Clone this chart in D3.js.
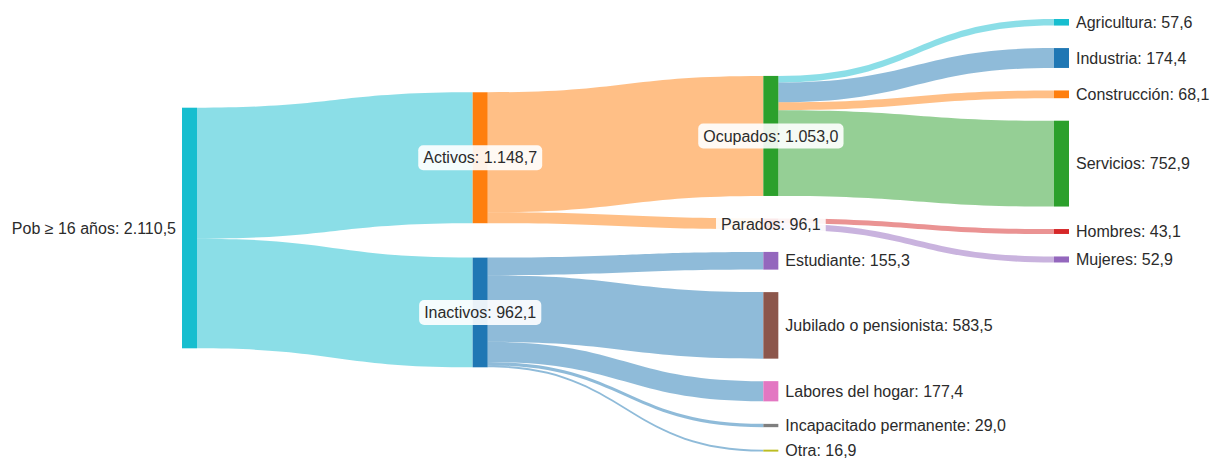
<!DOCTYPE html>
<html>
<head>
<meta charset="utf-8">
<script src="https://cdn.jsdelivr.net/npm/d3@7"></script>
<style>
  html, body { margin: 0; padding: 0; background: #fff; }
  svg { display: block; }
</style>
</head>
<body>
<svg id="chart" width="1215" height="458"></svg>
<script>
// ---------------- DATA ----------------
const nodeNames = [
  "Pob ≥ 16 años", "Activos", "Inactivos", "Ocupados", "Parados",
  "Estudiante", "Jubilado o pensionista", "Labores del hogar",
  "Incapacitado permanente", "Otra",
  "Agricultura", "Industria", "Construcción", "Servicios",
  "Hombres", "Mujeres"
];
const nodeValues = [
  2110.5, 1148.7, 962.1, 1053.0, 96.1,
  155.3, 583.5, 177.4, 29.0, 16.9,
  57.6, 174.4, 68.1, 752.9,
  43.1, 52.9
];
const nodeColorIndex = [9, 1, 0, 2, 3, 4, 5, 6, 7, 8, 9, 0, 1, 2, 3, 4];

const linkSources = [0, 0, 1, 1, 2, 2, 2, 2, 2, 3, 3, 3, 3, 4, 4];
const linkTargets = [1, 2, 3, 4, 5, 6, 7, 8, 9, 10, 11, 12, 13, 14, 15];
const linkValues  = [1148.7, 962.1, 1053.0, 96.1, 155.3, 583.5, 177.4, 29.0, 16.9,
                     57.6, 174.4, 68.1, 752.9, 43.1, 52.9];

// ---------------- LAYOUT SETTINGS ----------------
const W = 1215, H = 458;
const extentTop = 19, extentBottom = 451.6;
const nodeWidth = 15;
const columnAlign   = [0.462, 0.465, 1, 0];     // share of free space above each column
const columnPadding = [22.5, 34.4, 22.5, 22.5];
const fontFamily = "'Liberation Sans', Arial, Helvetica, sans-serif";

const palette = d3.schemeCategory10;
const locale = d3.formatLocale({decimal: ",", thousands: ".", grouping: [3], currency: ["", "€"]});
const fmt = locale.format(",.1f");

// ---------------- BUILD GRAPH ----------------
const nodes = nodeNames.map((name, i) => ({
  index: i, name, value: nodeValues[i], color: palette[nodeColorIndex[i]],
  sourceLinks: [], targetLinks: [], depth: 0
}));
const links = linkSources.map((s, i) => ({
  source: nodes[s], target: nodes[linkTargets[i]], value: linkValues[i]
}));
links.forEach(l => { l.source.sourceLinks.push(l); l.target.targetLinks.push(l); });

// depth (longest path from a source)
for (let pass = 0; pass < nodes.length; pass++) {
  links.forEach(l => { l.target.depth = Math.max(l.target.depth, l.source.depth + 1); });
}
const maxDepth = d3.max(nodes, d => d.depth);
const columns = d3.range(maxDepth + 1).map(d => nodes.filter(n => n.depth === d));

// scales
const x = d3.scaleLinear().domain([0, maxDepth]).range([182, 1054]);
const ky = d3.scaleLinear().domain([0, d3.max(nodeValues)]).range([0, 240.6]);

nodes.forEach(n => { n.x0 = x(n.depth); n.x1 = n.x0 + nodeWidth; });

columns.forEach((col, ci) => {
  const pad = columnPadding[ci];
  const total = d3.sum(col, n => ky(n.value)) + pad * (col.length - 1);
  let y = extentTop + columnAlign[ci] * ((extentBottom - extentTop) - total);
  col.forEach(n => {
    n.y0 = y;
    n.y1 = y + ky(n.value);
    y = n.y1 + pad;
  });
});

// link positions
links.forEach(l => { l.width = ky(l.value); });
nodes.forEach(n => {
  n.sourceLinks.sort((a, b) => a.target.y0 - b.target.y0);
  n.targetLinks.sort((a, b) => a.source.y0 - b.source.y0);
  let y = n.y0;
  n.sourceLinks.forEach(l => { l.ys = y; y += l.width; });
  y = n.y0;
  n.targetLinks.forEach(l => { l.yt = y; y += l.width; });
});

// link colour: links ending in the last column take the target colour
links.forEach(l => {
  l.color = l.target.depth === maxDepth ? l.target.color : l.source.color;
});

function bandPath(l) {
  const x0 = l.source.x1, x1 = l.target.x0;
  const xm = d3.interpolateNumber(x0, x1)(0.5);
  const p = d3.path();
  p.moveTo(x0, l.ys);
  p.bezierCurveTo(xm, l.ys, xm, l.yt, x1, l.yt);
  p.lineTo(x1, l.yt + l.width);
  p.bezierCurveTo(xm, l.yt + l.width, xm, l.ys + l.width, x0, l.ys + l.width);
  p.closePath();
  return p.toString();
}

// ---------------- DRAW ----------------
const svg = d3.select("#chart");
svg.append("rect").attr("width", W).attr("height", H).attr("fill", "#fff");

svg.append("g").attr("class", "links")
  .selectAll("path").data(links).join("path")
  .attr("d", bandPath)
  .attr("fill", d => d.color)
  .attr("fill-opacity", 0.5);

svg.append("g").attr("class", "nodes")
  .selectAll("rect").data(nodes).join("rect")
  .attr("x", d => d.x0).attr("y", d => d.y0)
  .attr("width", d => d.x1 - d.x0)
  .attr("height", d => Math.max(1, d.y1 - d.y0))
  .attr("fill", d => d.color);

const labels = svg.append("g").attr("class", "labels")
  .attr("font-family", fontFamily).attr("font-size", 16).attr("fill", "#2b2b2b");

nodes.forEach(n => {
  const cy = (n.y0 + n.y1) / 2;
  const text = `${n.name}: ${fmt(n.value)}`;
  if (!n.targetLinks.length) {
    labels.append("text").attr("x", n.x0 - 6).attr("y", cy).attr("dy", "0.35em")
      .attr("text-anchor", "end").text(text);
  } else if (!n.sourceLinks.length) {
    labels.append("text").attr("x", n.x1 + 7).attr("y", cy).attr("dy", "0.35em")
      .attr("text-anchor", "start").text(text);
  } else {
    const g = labels.append("g");
    const rect = g.append("rect");
    const t = g.append("text").attr("x", (n.x0 + n.x1) / 2).attr("y", cy).attr("dy", "0.35em")
      .attr("text-anchor", "middle").text(text);
    const bb = t.node().getBBox();
    rect.attr("x", bb.x - 5).attr("y", cy - 12.5)
      .attr("width", bb.width + 10).attr("height", 25)
      .attr("rx", 5).attr("ry", 5)
      .attr("fill", "#fff").attr("fill-opacity", 0.9);
  }
});
</script>
</body>
</html>
